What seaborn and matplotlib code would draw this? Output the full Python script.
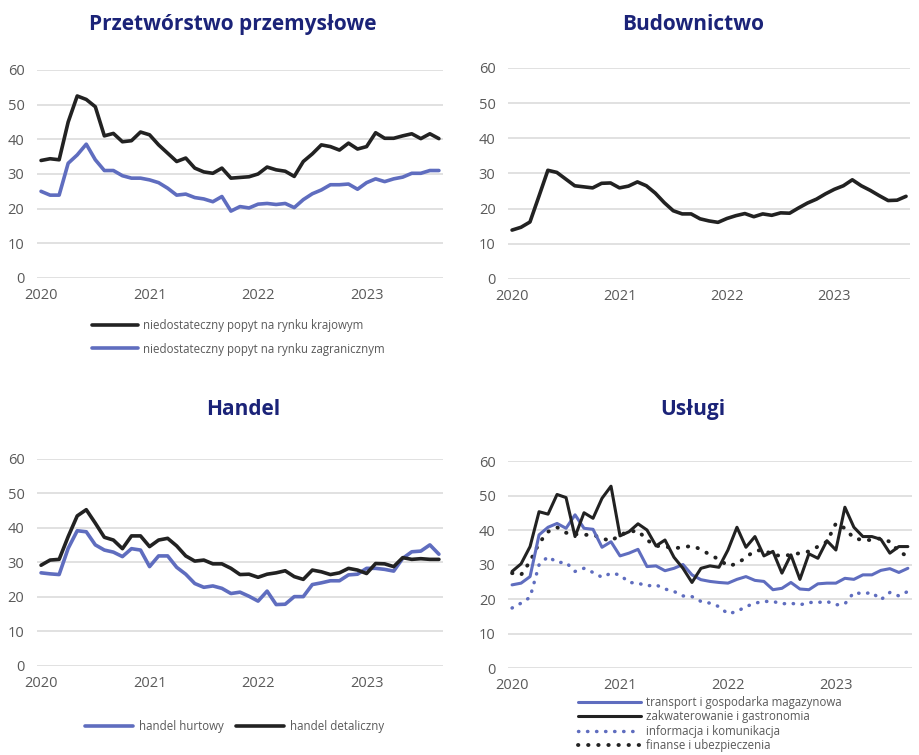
import numpy as np
import pandas as pd
import matplotlib
matplotlib.use("Agg")
import matplotlib.pyplot as plt
import seaborn as sns

# miesiace od 2020-01 do 2023-09
months = pd.date_range("2020-01-01", "2023-09-01", freq="MS")
year_labels = ["2020", "2021", "2022", "2023"]

# Przetworstwo przemyslowe
przem_krajowy = [33.9, 34.4, 34.1, 45.0, 52.5, 51.5, 49.4, 41.0, 41.7, 39.3, 39.6, 42.1,
                 41.3, 38.4, 36.0, 33.6, 34.6, 31.7, 30.6, 30.2, 31.7, 28.8, 29.0, 29.2,
                 30.0, 32.0, 31.2, 30.8, 29.3, 33.6, 35.8, 38.4, 37.9, 36.9, 38.9, 37.2,
                 37.9, 41.9, 40.3, 40.3, 41.0, 41.6, 40.2, 41.6, 40.2]
przem_zagraniczny = [25.0, 23.9, 23.9, 33.1, 35.5, 38.6, 34.1, 31.0, 31.0, 29.5, 28.8, 28.8,
                     28.3, 27.5, 25.9, 23.9, 24.2, 23.2, 22.8, 22.0, 23.5, 19.3, 20.6, 20.2,
                     21.3, 21.5, 21.2, 21.5, 20.3, 22.6, 24.3, 25.4, 26.9, 26.9, 27.1, 25.6,
                     27.5, 28.6, 27.8, 28.6, 29.1, 30.2, 30.2, 31.0, 31.0]

# Budownictwo
budownictwo = [13.9, 14.7, 16.2, 23.5, 30.9, 30.3, 28.4, 26.5, 26.2, 25.9, 27.2, 27.3,
               25.9, 26.4, 27.6, 26.5, 24.4, 21.7, 19.4, 18.5, 18.5, 17.1, 16.5, 16.1,
               17.2, 18.0, 18.6, 17.7, 18.5, 18.1, 18.8, 18.7, 20.2, 21.6, 22.7, 24.2,
               25.5, 26.5, 28.2, 26.5, 25.2, 23.7, 22.3, 22.4, 23.5]

# Handel
handel_hurtowy = [27.0, 26.7, 26.5, 34.1, 39.2, 38.9, 35.1, 33.6, 33.0, 31.7, 34.0, 33.6,
                  28.8, 31.9, 31.9, 28.6, 26.6, 23.9, 22.8, 23.2, 22.5, 21.0, 21.4, 20.2,
                  18.8, 21.7, 17.8, 17.9, 20.1, 20.1, 23.6, 24.1, 24.7, 24.7, 26.4, 26.6,
                  28.3, 28.3, 28.0, 27.5, 31.2, 33.1, 33.3, 35.1, 32.4]
handel_detaliczny = [29.2, 30.7, 30.9, 37.5, 43.5, 45.3, 41.4, 37.3, 36.5, 34.0, 37.7, 37.7,
                     34.6, 36.5, 37.0, 34.8, 31.9, 30.4, 30.7, 29.6, 29.6, 28.3, 26.5, 26.6,
                     25.7, 26.6, 27.0, 27.6, 25.9, 25.1, 27.8, 27.3, 26.5, 27.0, 28.3, 27.8,
                     26.8, 29.7, 29.6, 28.8, 31.4, 30.9, 31.1, 30.9, 30.9]

# Uslugi
transport = [24.1, 24.6, 26.5, 38.6, 40.8, 41.9, 40.5, 44.4, 40.5, 40.2, 35.0, 36.6,
             32.5, 33.3, 34.4, 29.4, 29.6, 28.2, 28.9, 30.0, 27.0, 25.6, 25.1, 24.8,
             24.6, 25.7, 26.5, 25.4, 25.1, 22.7, 23.1, 24.8, 22.9, 22.7, 24.4, 24.6,
             24.6, 26.0, 25.7, 27.0, 27.0, 28.3, 28.8, 27.7, 28.9]
zakwaterowanie = [28.0, 30.2, 35.2, 45.3, 44.6, 50.3, 49.4, 38.1, 45.0, 43.4, 49.2, 52.7,
                  38.3, 39.5, 41.8, 40.0, 35.4, 37.1, 32.1, 28.9, 24.8, 28.9, 29.6, 29.2,
                  34.2, 40.8, 35.0, 38.1, 32.5, 33.8, 27.5, 32.8, 25.7, 33.1, 31.8, 36.9,
                  34.2, 46.6, 40.8, 38.1, 38.1, 37.3, 33.3, 35.2, 35.2]
informacja = [17.4, 18.8, 20.5, 29.9, 32.3, 30.6, 30.6, 28.0, 28.9, 27.7, 26.3, 27.5,
              27.0, 24.8, 24.6, 23.8, 24.1, 22.9, 22.2, 20.9, 20.7, 19.3, 18.8, 17.8,
              15.7, 16.4, 17.8, 18.8, 19.3, 19.3, 18.6, 18.8, 18.3, 19.0, 19.0, 19.3,
              18.3, 18.6, 21.9, 21.5, 21.9, 19.8, 21.9, 20.9, 22.2]
finanse = [27.5, 27.0, 30.9, 36.2, 39.5, 40.8, 39.2, 38.8, 38.6, 38.6, 37.6, 36.8,
           38.6, 39.5, 39.8, 37.1, 35.4, 35.2, 34.7, 35.0, 35.4, 34.4, 32.8, 31.5,
           29.6, 30.2, 32.1, 34.0, 34.2, 32.8, 32.5, 32.8, 33.3, 33.8, 35.2, 36.6,
           41.9, 40.5, 37.6, 37.1, 37.1, 37.6, 36.6, 33.8, 32.3]

BLUE = "#5f6dbf"
BLACK = "#222222"
NAVY = "#1b2378"
GREY = "#595959"

sns.set_style("white")
plt.rcParams["font.family"] = ["Open Sans", "DejaVu Sans"]

fig = plt.figure(figsize=(9.2, 7.55), dpi=100)
x = np.arange(len(months))

axes = [
    fig.add_axes([0.0402, 0.6318, 0.4413, 0.2755]),
    fig.add_axes([0.5522, 0.6305, 0.4370, 0.2795]),
    fig.add_axes([0.0402, 0.1179, 0.4413, 0.2742]),
    fig.add_axes([0.5522, 0.1152, 0.4390, 0.2742]),
]


def style_ax(ax):
    ax.set_xlim(-0.45, 44.45)
    ax.set_ylim(0, 60)
    ax.set_yticks(range(0, 61, 10))
    ax.set_xticks([0, 12, 24, 36])
    ax.set_xticklabels(year_labels)
    ax.grid(axis="y", color="#d9d9d9", linewidth=1.1)
    ax.grid(axis="x", visible=False)
    ax.set_axisbelow(True)
    for s in ax.spines.values():
        s.set_visible(False)
    ax.tick_params(axis="both", length=0, labelsize=10.5, colors=GREY)
    ax.tick_params(axis="y", pad=9)
    ax.tick_params(axis="x", pad=7)
    ax.set_xlabel("")
    ax.set_ylabel("")


def dotted(ax):
    ln = ax.lines[-1]
    ln.set_dashes((0.1, 2.5))
    ln.set_dash_capstyle("round")
    return ln


# panel 1
ax = axes[0]
sns.lineplot(x=x, y=przem_krajowy, ax=ax, color=BLACK, linewidth=2.6,
             label="niedostateczny popyt na rynku krajowym", legend=False)
sns.lineplot(x=x, y=przem_zagraniczny, ax=ax, color=BLUE, linewidth=2.6,
             label="niedostateczny popyt na rynku zagranicznym", legend=False)
style_ax(ax)
h, l = ax.get_legend_handles_labels()
fig.legend(h, l, loc="center left", bbox_to_anchor=(0.1, 0.5536), frameon=False,
           fontsize=8.3, labelcolor=GREY, handlelength=4.0, handletextpad=0.45,
           labelspacing=0.95, borderpad=0, borderaxespad=0)

# panel 2
ax = axes[1]
sns.lineplot(x=x, y=budownictwo, ax=ax, color=BLACK, linewidth=2.6)
style_ax(ax)

# panel 3
ax = axes[2]
sns.lineplot(x=x, y=handel_hurtowy, ax=ax, color=BLUE, linewidth=2.6,
             label="handel hurtowy", legend=False)
sns.lineplot(x=x, y=handel_detaliczny, ax=ax, color=BLACK, linewidth=2.6,
             label="handel detaliczny", legend=False)
style_ax(ax)
h, l = ax.get_legend_handles_labels()
fig.legend(h, l, loc="center left", bbox_to_anchor=(0.0924, 0.0371), frameon=False,
           ncol=2, fontsize=8.3, labelcolor=GREY, handlelength=4.2, handletextpad=0.45,
           columnspacing=1.1, borderpad=0, borderaxespad=0)

# panel 4
ax = axes[3]
sns.lineplot(x=x, y=informacja, ax=ax, color=BLUE, linewidth=2.5,
             label="informacja i komunikacja", legend=False)
l_inf = dotted(ax)
sns.lineplot(x=x, y=finanse, ax=ax, color=BLACK, linewidth=2.8,
             label="finanse i ubezpieczenia", legend=False)
l_fin = dotted(ax)
sns.lineplot(x=x, y=transport, ax=ax, color=BLUE, linewidth=2.2,
             label="transport i gospodarka magazynowa", legend=False)
l_tr = ax.lines[-1]
sns.lineplot(x=x, y=zakwaterowanie, ax=ax, color=BLACK, linewidth=2.2,
             label="zakwaterowanie i gastronomia", legend=False)
l_zak = ax.lines[-1]
style_ax(ax)
fig.legend([l_tr, l_zak, l_inf, l_fin],
           [l_tr.get_label(), l_zak.get_label(), l_inf.get_label(), l_fin.get_label()],
           loc="center left", bbox_to_anchor=(0.628, 0.041), frameon=False,
           fontsize=8.3, labelcolor=GREY, handlelength=5.5, handletextpad=0.45,
           labelspacing=0.1, borderpad=0, borderaxespad=0)

# tytuly
title_kw = dict(ha="center", va="center", fontsize=15, fontweight="bold", color=NAVY)
fig.text(0.253, 0.967, "Przetwórstwo przemysłowe", **title_kw)
fig.text(0.753, 0.967, "Budownictwo", **title_kw)
fig.text(0.264, 0.457, "Handel", **title_kw)
fig.text(0.753, 0.457, "Usługi", **title_kw)

fig.savefig("out.png", dpi=100)
